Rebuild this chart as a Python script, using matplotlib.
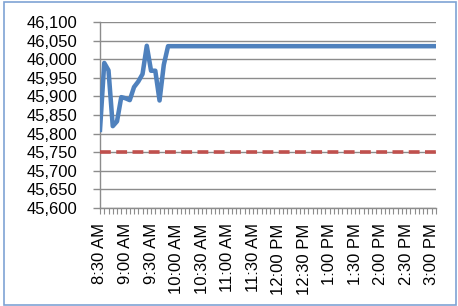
# intraday price vs reference level, Excel-style line chart
import pandas as pd
import matplotlib.pyplot as plt
from matplotlib.patches import Rectangle
from matplotlib.ticker import FuncFormatter

# 5-minute categories, 8:30 AM .. 3:05 PM
times = pd.date_range('2020-01-01 08:30', '2020-01-01 15:05', freq='5min')
tick_every = 6  # label every 30 minutes

early_prices = [45810, 45990, 45970, 45820, 45833, 45898, 45895, 45890,
                45925, 45940, 45960, 46036, 45969, 45969, 45889, 45985]
flat_price = 46035
prices = early_prices + [flat_price] * (len(times) - len(early_prices))

ref_level = 45750
ref_line = [ref_level] * len(times)

y_min, y_max, y_step = 45600, 46100, 50

plt.rcParams['font.family'] = ['Liberation Sans', 'DejaVu Sans']

fig = plt.figure(figsize=(4.58, 3.06), dpi=100)
ax = fig.add_axes([100 / 458, (306 - 208) / 306, 336 / 458, 186 / 306])

x = list(range(len(times)))
ax.plot(x, ref_line, color='#C0504D', lw=2.6, dashes=(3.0, 1.5),
        dash_capstyle='butt', zorder=3)
ax.plot(x, prices, color='#4F81BD', lw=3.25, solid_joinstyle='round', zorder=4)

ax.set_xlim(0, len(times) - 1)
ax.set_ylim(y_min, y_max)
ax.set_yticks(range(y_min, y_max + 1, y_step))
ax.yaxis.set_major_formatter(FuncFormatter(lambda v, p: f'{int(v):,}'))

ax.set_xticks(x)
labels = [t.strftime('%I:%M %p').lstrip('0') if i % tick_every == 0 else ''
          for i, t in enumerate(times)]
ax.set_xticklabels(labels, rotation=90)

ax.grid(True, axis='y', color='#8C8C8C', lw=1.0)
ax.set_axisbelow(True)
for s in ['top', 'right']:
    ax.spines[s].set_visible(False)
for s in ['left', 'bottom']:
    ax.spines[s].set_color('#8C8C8C')
    ax.spines[s].set_linewidth(1.0)

ax.tick_params(axis='y', length=5, width=1.0, color='#8C8C8C', pad=11,
               labelsize=12, labelcolor='black')
ax.tick_params(axis='x', length=4, width=0.8, color='#8C8C8C', pad=7,
               labelsize=12, labelcolor='black')

# light blue chart frame
fig.patches.append(Rectangle((4 / 458, 1.5 / 306), 451.5 / 458, 302.5 / 306,
                             transform=fig.transFigure, fill=False,
                             edgecolor='#7FA3D4', lw=1.2))

fig.savefig('out.png', dpi=100)
